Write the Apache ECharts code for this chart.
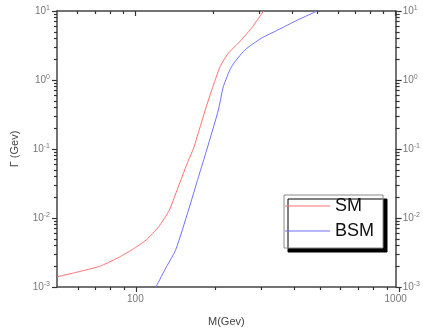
<!DOCTYPE html>
<html><head><meta charset="utf-8">
<script src="https://cdn.jsdelivr.net/npm/echarts@6/dist/echarts.min.js"></script>
<style>html,body{margin:0;padding:0;background:#fff}#c{width:423px;height:333px}</style>
</head><body><div id="c"></div>
<script>
// Data
var smM   = [50, 60, 73, 85, 97.5, 110, 123, 135, 147, 160, 167, 176, 185.5, 196.6, 211.6, 227.5, 248.3, 279, 311];
var smG   = [0.0014, 0.00165, 0.0020, 0.0026, 0.0035, 0.0048, 0.0075, 0.013, 0.030, 0.069, 0.10, 0.19, 0.367, 0.716, 1.56, 2.44, 3.4, 5.61, 10];
var bsmM  = [120, 130, 142.6, 160, 175, 188, 208.4, 217.8, 234.2, 263.4, 304.6, 352.5, 420, 500];
var bsmG  = [0.001, 0.0018, 0.0034, 0.013, 0.040, 0.097, 0.367, 0.80, 1.56, 2.72, 4.02, 5.3, 7.4, 10];
var seriesNames = ['SM', 'BSM'];
var xLabels = [100, 1000];
var xMajor = [100, 1000];
var xMinor = [60, 70, 80, 90, 200, 300, 400, 500, 600, 700, 800, 900];
var yMajor = [0.001, 0.01, 0.1, 1, 10];
var yMinor = [];
[0.001, 0.01, 0.1, 1].forEach(function (d) { for (var k = 2; k <= 9; k++) yMinor.push(+(d * k).toPrecision(3)); });

var XMIN = 50, XMAX = 1000, YMIN = 0.001, YMAX = 10;
var FONT = 'Arial, "Liberation Sans", sans-serif';
var AX = '#333';
function lg(a) { return a.map(function (v) { return Math.log10(v); }); }
function pair(a, b) { return a.map(function (v, i) { return [v, b[i]]; }); }
function powLabel(v) {
  var e = Math.round(Math.log10(v));
  return '{b|10}{s|' + e + '}';
}
var rich = {
  b: { fontSize: 10, color: '#777', fontFamily: FONT },
  s: { fontSize: 7, color: '#777', fontFamily: FONT, verticalAlign: 'top', padding: [0, 0, 6, 0] }
};
function logX(pos, labels, name) {
  return {
    type: 'log', logBase: 10, min: XMIN, max: XMAX, position: pos,
    name: name || '', nameLocation: 'middle', nameGap: 29,
    nameTextStyle: { fontSize: 11, color: '#444', fontFamily: FONT },
    axisLine: { show: true, onZero: false, lineStyle: { color: '#444', width: 1.5 } },
    axisTick: { show: false },
    axisLabel: labels ? { show: true, fontSize: 10, color: '#777', fontFamily: FONT, margin: 7,
      formatter: function (v) { var r = Math.round(v); return xLabels.indexOf(r) >= 0 ? String(r) : ''; } } : { show: false },
    minorTick: { show: false }, splitLine: { show: false }
  };
}
function logY(pos, name) {
  return {
    type: 'log', logBase: 10, min: YMIN, max: YMAX, position: pos,
    name: name || '', nameLocation: 'middle', nameGap: 37, nameRotate: 90,
    nameTextStyle: { fontSize: 11, color: '#444', fontFamily: FONT },
    axisLine: { show: true, onZero: false, lineStyle: { color: '#444', width: 1.5 } },
    axisTick: { show: false },
    axisLabel: { show: true, formatter: powLabel, rich: rich, margin: 7 },
    minorTick: { show: false }, splitLine: { show: false }
  };
}
function tickAx(pos, lo, hi, vals, len, inside, gi) {
  return {
    gridIndex: gi || 0,
    type: 'value', min: Math.log10(lo), max: Math.log10(hi), position: pos, offset: 0,
    axisLine: { show: false, onZero: false },
    axisTick: { show: true, inside: inside, length: len, customValues: lg(vals), lineStyle: { color: AX, width: 1.2 } },
    axisLabel: { show: false }, splitLine: { show: false }, minorTick: { show: false }
  };
}

var chart = echarts.init(document.getElementById('c'), null, { renderer: 'canvas' });
chart.setOption({
  animation: false,
  backgroundColor: '#fff',
  grid: [
    { left: 57, right: 24, top: 11, bottom: 46, containLabel: false },
    // strip whose top edge sits on the bottom axis line: carries the bottom ticks
    { left: 57, right: 24, top: 287, height: 20, containLabel: false }
  ],
  xAxis: [
    logX('bottom', true, 'M(Gev)'),
    logX('top', false),
    tickAx('top', XMIN, XMAX, xMajor, 5, true),
    tickAx('top', XMIN, XMAX, xMinor, 3, true),
    tickAx('top', XMIN, XMAX, xMajor, 5, true, 1),
    tickAx('top', XMIN, XMAX, xMinor, 3, true, 1)
  ],
  yAxis: [
    logY('left', 'Γ (Gev)'),
    tickAx('left', YMIN, YMAX, yMajor, 5, false),
    tickAx('left', YMIN, YMAX, yMinor, 3, false),
    logY('right'),
    tickAx('right', YMIN, YMAX, yMajor, 6, false),
    tickAx('right', YMIN, YMAX, yMinor, 4, false),
    { gridIndex: 1, type: 'value', min: 0, max: 1, show: false }
  ],
  legend: {
    left: 284, top: 195, orient: 'vertical',
    data: seriesNames,
    icon: 'rect', itemWidth: 45, itemHeight: 1, itemGap: 7,
    padding: [2, 9, 8, 1],
    textStyle: { fontSize: 18, color: '#111', fontFamily: FONT, lineHeight: 18 },
    backgroundColor: '#fff', borderColor: '#888', borderWidth: 1,
    shadowColor: '#000', shadowBlur: 0, shadowOffsetX: 4, shadowOffsetY: 4
  },
  series: [
    { name: seriesNames[0], type: 'line', xAxisIndex: 0, yAxisIndex: 0, data: pair(smM, smG), smooth: 0.2, symbol: 'none', color: '#ff7070', lineStyle: { color: '#ff7070', width: 1 } },
    { name: seriesNames[1], type: 'line', xAxisIndex: 0, yAxisIndex: 0, data: pair(bsmM, bsmG), smooth: 0.2, symbol: 'none', color: '#7070ff', lineStyle: { color: '#7070ff', width: 1 } }
  ]
});
</script></body></html>
